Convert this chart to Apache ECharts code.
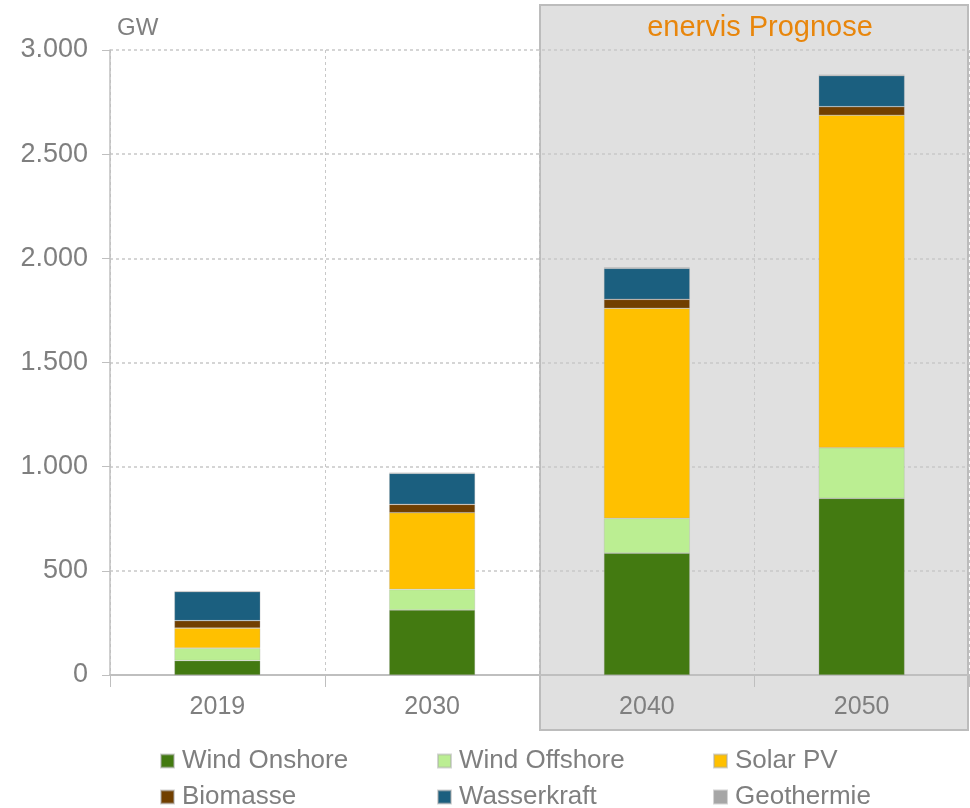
<!DOCTYPE html>
<html>
<head>
<meta charset="utf-8">
<script src="https://cdn.jsdelivr.net/npm/echarts@6/dist/echarts.min.js"></script>
<style>
html,body{margin:0;padding:0;background:#fff;}
#chart{width:970px;height:808px;}
</style>
</head>
<body>
<div id="chart"></div>
<script>
const categories = ['2019', '2030', '2040', '2050'];
const windOnshore = [69, 312, 585, 848];
const windOffshore = [60, 99, 167, 243];
const solarPV = [96, 368, 1008, 1596];
const biomasse = [36, 40, 43, 41];
const wasserkraft = [139, 149, 149, 149];
const geothermie = [2, 3, 4, 5];
const seriesNames = ['Wind Onshore', 'Wind Offshore', 'Solar PV', 'Biomasse', 'Wasserkraft', 'Geothermie'];
const seriesColors = ['#437a11', '#bbee92', '#ffc000', '#713f00', '#1b5f7f', '#a6a6a6'];
const yMax = 3000;
const yStep = 500;

const seriesData = [windOnshore, windOffshore, solarPV, biomasse, wasserkraft, geothermie];
const font = 'Liberation Sans, Arial, sans-serif';
const grey = '#7f7f7f';

const chart = echarts.init(document.getElementById('chart'));
const series = seriesNames.map((n, i) => ({
  name: n,
  type: 'bar',
  stack: 'total',
  barWidth: '40%',
  data: seriesData[i],
  itemStyle: { color: seriesColors[i], borderColor: 'rgba(170,170,170,0.5)', borderWidth: 0.6 },
  z: 5
}));

const legendLefts = [160, 437, 713];
const legendTops = [748, 784];
const legends = seriesNames.map((n, i) => ({
  data: [{ name: n, icon: 'rect' }],
  left: legendLefts[i % 3],
  top: legendTops[Math.floor(i / 3)],
  padding: 0,
  itemWidth: 13,
  itemHeight: 13,
  textStyle: { fontFamily: font, fontSize: 26, color: grey, padding: [0, 0, 0, 3] },
  selectedMode: false
}));

chart.setOption({
  animation: false,
  backgroundColor: '#fff',
  grid: { left: 110, right: 1, top: 50, bottom: 133, containLabel: false },
  graphic: {
    elements: [
      { type: 'rect', z: -10, shape: { x: 540, y: 5, width: 428, height: 725 },
        style: { fill: '#e0e0e0', stroke: '#bcbcbc', lineWidth: 2 } },
      { type: 'text', z: 10, x: 760, y: 28, style: { text: 'enervis Prognose', fill: '#e8860c', font: '29px Liberation Sans, Arial, sans-serif', textAlign: 'center', textVerticalAlign: 'middle' } },
      { type: 'text', z: 10, x: 117, y: 28, style: { text: 'GW', fill: grey, font: '24px Liberation Sans, Arial, sans-serif', textAlign: 'left', textVerticalAlign: 'middle' } }
    ]
  },
  legend: legends,
  xAxis: {
    type: 'category',
    data: categories,
    axisLine: { lineStyle: { color: '#bfbfbf', width: 2 } },
    axisTick: { show: true, length: 12, lineStyle: { color: '#bfbfbf', width: 1 } },
    axisLabel: { fontFamily: font, fontSize: 25, color: grey, margin: 20 },
    splitLine: { show: true, lineStyle: { color: '#c8c8c8', type: [3, 3], width: 1 } }
  },
  yAxis: {
    type: 'value',
    min: 0,
    max: yMax,
    interval: yStep,
    axisLine: { show: true, lineStyle: { color: '#bfbfbf', width: 1.5 } },
    axisTick: { show: true, length: 8, lineStyle: { color: '#bfbfbf' } },
    axisLabel: {
      fontFamily: font, fontSize: 27, color: grey, margin: 22,
      formatter: v => v.toString().replace(/\B(?=(\d{3})+(?!\d))/g, '.')
    },
    splitLine: { show: true, lineStyle: { color: '#c8c8c8', type: [3, 3], width: 1.5 } }
  },
  series: series
});
</script>
</body>
</html>
